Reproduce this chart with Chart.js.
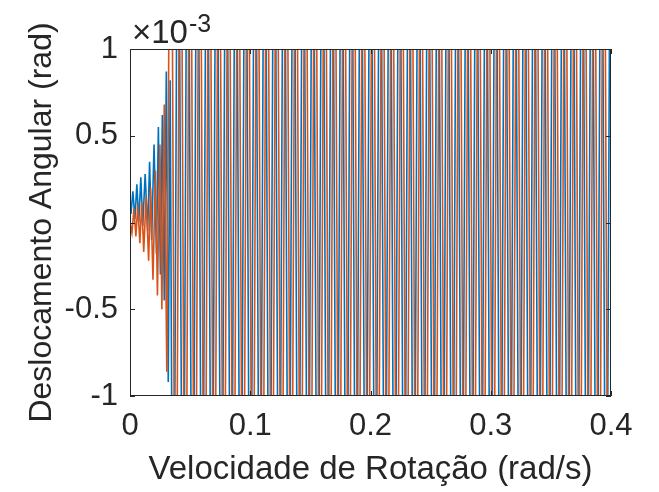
<!DOCTYPE html>
<html lang="pt">
<head>
<meta charset="UTF-8">
<title>Deslocamento Angular</title>
<script src="https://cdn.jsdelivr.net/npm/chart.js"></script>
<style>
  html, body { margin: 0; padding: 0; background: #fff; }
</style>
</head>
<body>
<canvas id="grafico" width="659" height="492"></canvas>
<script>
// velocidade de rotação (rad/s) e deslocamento angular (x 1e-3 rad)
const velAzul = [
  0, 0.0008, 0.0024, 0.0041, 0.0057, 0.0073, 0.009, 0.0106, 0.0126, 0.0147,
  0.0163, 0.018, 0.02, 0.022, 0.0236, 0.0253, 0.0269, 0.0285, 0.0302, 0.0318, 0.0334,
  0.036, 0.040, 0.044, 0.048, 0.052, 0.056, 0.060, 0.064, 0.068, 0.072,
  0.076, 0.080, 0.084, 0.088, 0.092, 0.096, 0.100, 0.104, 0.108, 0.112,
  0.116, 0.120, 0.124, 0.128, 0.132, 0.136, 0.140, 0.144, 0.148, 0.152,
  0.156, 0.160, 0.164, 0.168, 0.172, 0.176, 0.180, 0.184, 0.188, 0.192,
  0.196, 0.200, 0.204, 0.208, 0.212, 0.216, 0.220, 0.224, 0.228, 0.232,
  0.236, 0.240, 0.244, 0.248, 0.252, 0.256, 0.260, 0.264, 0.268, 0.272,
  0.276, 0.280, 0.284, 0.288, 0.292, 0.296, 0.300, 0.304, 0.308, 0.312,
  0.316, 0.320, 0.324, 0.328, 0.332, 0.336, 0.340, 0.344, 0.348, 0.352,
  0.356, 0.360, 0.364, 0.368, 0.372, 0.376, 0.380, 0.384, 0.388, 0.392,
  0.396, 0.400
];
const desAzul = [
  0.1, 0.05, 0.18, 0.02, 0.22, 0.0, 0.26, -0.02, 0.28, -0.05,
  0.35, -0.1, 0.45, -0.18, 0.55, -0.3, 0.62, -0.45, 0.87, -0.92, 0.82,
  -3, 3, -3, 3, -3, 3, -3, 3, -3, 3,
  -3, 3, -3, 3, -3, 3, -3, 3, -3, 3,
  -3, 3, -3, 3, -3, 3, -3, 3, -3, 3,
  -3, 3, -3, 3, -3, 3, -3, 3, -3, 3,
  -3, 3, -3, 3, -3, 3, -3, 3, -3, 3,
  -3, 3, -3, 3, -3, 3, -3, 3, -3, 3,
  -3, 3, -3, 3, -3, 3, -3, 3, -3, 3,
  -3, 3, -3, 3, -3, 3, -3, 3, -3, 3,
  -3, 3, -3, 3, -3, 3, -3, 3, -3, 3,
  -3, 3
];

const velLaranja = [
  0, 0.0016, 0.0033, 0.0049, 0.0065, 0.0082, 0.0098, 0.0114, 0.0134, 0.0155,
  0.0171, 0.0191, 0.0212, 0.0228, 0.0249, 0.0265, 0.0285, 0.0306,
  0.034, 0.038, 0.042, 0.046, 0.050, 0.054, 0.058, 0.062, 0.066, 0.070,
  0.074, 0.078, 0.082, 0.086, 0.090, 0.094, 0.098, 0.102, 0.106, 0.110,
  0.114, 0.118, 0.122, 0.126, 0.130, 0.134, 0.138, 0.142, 0.146, 0.150,
  0.154, 0.158, 0.162, 0.166, 0.170, 0.174, 0.178, 0.182, 0.186, 0.190,
  0.194, 0.198, 0.202, 0.206, 0.210, 0.214, 0.218, 0.222, 0.226, 0.230,
  0.234, 0.238, 0.242, 0.246, 0.250, 0.254, 0.258, 0.262, 0.266, 0.270,
  0.274, 0.278, 0.282, 0.286, 0.290, 0.294, 0.298, 0.302, 0.306, 0.310,
  0.314, 0.318, 0.322, 0.326, 0.330, 0.334, 0.338, 0.342, 0.346, 0.350,
  0.354, 0.358, 0.362, 0.366, 0.370, 0.374, 0.378, 0.382, 0.386, 0.390,
  0.394, 0.398
];
const desLaranja = [
  0, -0.06, 0.08, -0.08, 0.1, -0.12, 0.12, -0.17, 0.15, -0.22,
  0.2, -0.33, 0.3, -0.42, 0.45, -0.5, 0.68, -0.86,
  3, -3, 3, -3, 3, -3, 3, -3, 3, -3,
  3, -3, 3, -3, 3, -3, 3, -3, 3, -3,
  3, -3, 3, -3, 3, -3, 3, -3, 3, -3,
  3, -3, 3, -3, 3, -3, 3, -3, 3, -3,
  3, -3, 3, -3, 3, -3, 3, -3, 3, -3,
  3, -3, 3, -3, 3, -3, 3, -3, 3, -3,
  3, -3, 3, -3, 3, -3, 3, -3, 3, -3,
  3, -3, 3, -3, 3, -3, 3, -3, 3, -3,
  3, -3, 3, -3, 3, -3, 3, -3, 3, -3,
  3, -3
];

const xTicks = [0, 0.1, 0.2, 0.3, 0.4];
const yTicks = [-1, -0.5, 0, 0.5, 1];

const fonte = '"Liberation Sans", Arial, Helvetica, sans-serif';
const corEixo = '#262626';

function pontos(xs, ys) {
  return xs.map((v, i) => ({ x: v, y: ys[i] }));
}

// caixa dos eixos, marcas internas e o fator x10^-3
const moldura = {
  id: 'moldura',
  afterDatasetsDraw(chart) {
    const { ctx, chartArea: a, scales: { x, y } } = chart;
    ctx.save();
    ctx.strokeStyle = corEixo;
    ctx.lineWidth = 1;
    ctx.strokeRect(a.left + 0.5, a.top + 0.5, a.right - a.left - 1, a.bottom - a.top - 1);
    ctx.beginPath();
    xTicks.forEach(v => {
      const px = Math.round(x.getPixelForValue(v)) + 0.5;
      ctx.moveTo(px, a.bottom); ctx.lineTo(px, a.bottom - 5);
      ctx.moveTo(px, a.top); ctx.lineTo(px, a.top + 5);
    });
    yTicks.forEach(v => {
      const py = Math.round(y.getPixelForValue(v)) + 0.5;
      ctx.moveTo(a.left, py); ctx.lineTo(a.left + 5, py);
      ctx.moveTo(a.right, py); ctx.lineTo(a.right - 5, py);
    });
    ctx.stroke();

    ctx.fillStyle = corEixo;
    ctx.textBaseline = 'alphabetic';
    ctx.font = '33px ' + fonte;
    ctx.fillText('\u00d710', a.left + 2, 43);
    const w = ctx.measureText('\u00d710').width;
    ctx.font = '25px ' + fonte;
    ctx.fillText('-3', a.left + 3 + w, 32);
    ctx.restore();
  }
};

const rotulo = v => String(Math.round(v * 10) / 10);

new Chart(document.getElementById('grafico'), {
  type: 'line',
  data: {
    datasets: [
      {
        data: pontos(velAzul, desAzul),
        borderColor: '#0072BD',
        borderWidth: 1.6,
        pointRadius: 0,
        tension: 0,
        order: 2
      },
      {
        data: pontos(velLaranja, desLaranja),
        borderColor: '#D95319',
        borderWidth: 1.6,
        pointRadius: 0,
        tension: 0,
        order: 1
      }
    ]
  },
  options: {
    responsive: false,
    animation: false,
    layout: { padding: { top: 49, right: 48, left: 0, bottom: 0 } },
    plugins: { legend: { display: false }, tooltip: { enabled: false } },
    scales: {
      x: {
        type: 'linear',
        min: 0,
        max: 0.4,
        afterFit: s => { s.height = 96; },
        afterBuildTicks: s => { s.ticks = xTicks.map(v => ({ value: v })); },
        grid: { display: false, drawTicks: false },
        border: { display: false },
        ticks: { color: corEixo, padding: 12, maxRotation: 0, callback: rotulo, font: { family: fonte, size: 31 } },
        title: {
          display: true,
          text: 'Velocidade de Rotação (rad/s)',
          color: corEixo,
          font: { family: fonte, size: 33 },
          padding: { top: 0, bottom: 2 }
        }
      },
      y: {
        min: -1,
        max: 1,
        afterFit: s => { s.width = 130; },
        afterBuildTicks: s => { s.ticks = yTicks.map(v => ({ value: v })); },
        grid: { display: false, drawTicks: false },
        border: { display: false },
        ticks: { color: corEixo, padding: 12, callback: rotulo, font: { family: fonte, size: 31 } },
        title: {
          display: true,
          text: 'Deslocamento Angular (rad)',
          color: corEixo,
          font: { family: fonte, size: 32 },
          padding: { top: 23, bottom: 0 }
        }
      }
    }
  },
  plugins: [moldura]
});
</script>
</body>
</html>
